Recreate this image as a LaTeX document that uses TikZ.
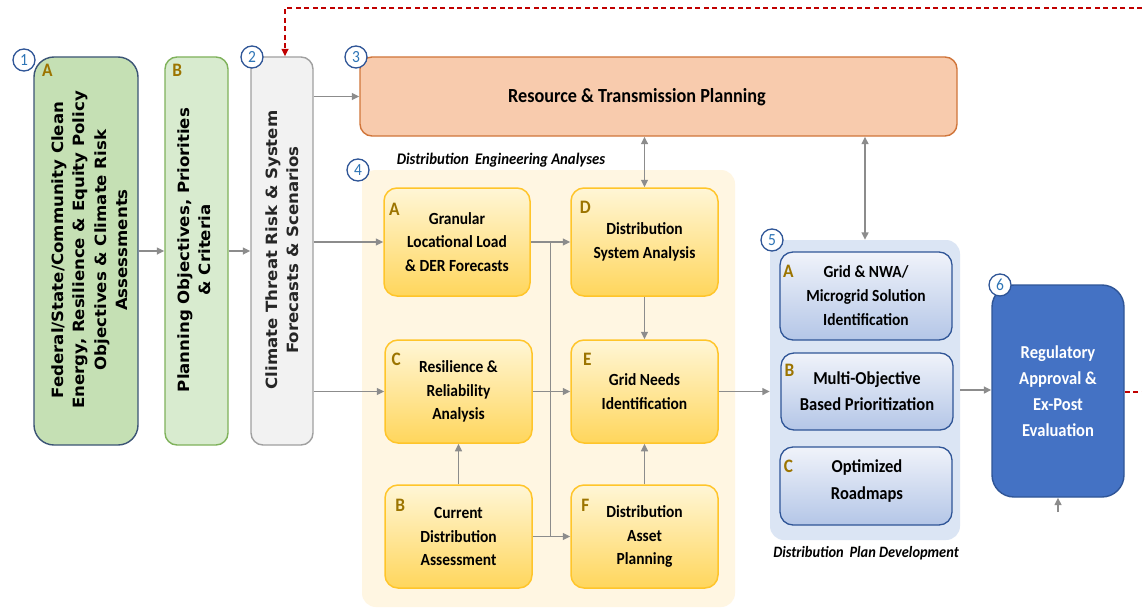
\documentclass[tikz,border=0pt]{standalone}
\usepackage{fontspec}
\setmainfont{Carlito}[FakeStretch=0.91]
\newfontfamily\dvs{DejaVu Sans}[FakeStretch=1.07]
\usetikzlibrary{arrows.meta,calc}
\definecolor{cblue}{HTML}{2F5597}
\definecolor{cnum}{HTML}{2E75B6}
\definecolor{lett}{HTML}{9C7400}
\definecolor{agray}{HTML}{8C8C8C}
\definecolor{dred}{HTML}{C00000}
\definecolor{gfillA}{HTML}{C5E0B4}
\definecolor{gbordA}{HTML}{3B5475}
\definecolor{gfillB}{HTML}{D8EBCF}
\definecolor{gbordB}{HTML}{7FB25B}
\definecolor{grfill}{HTML}{F2F2F2}
\definecolor{grbord}{HTML}{A0A0A0}
\definecolor{ofill}{HTML}{F8CBAD}
\definecolor{obord}{HTML}{D0753A}
\definecolor{c4fill}{HTML}{FFF6E2}
\definecolor{ytop}{HTML}{FFF6D6}
\definecolor{ybot}{HTML}{FFD65C}
\definecolor{ybord}{HTML}{FFC52A}
\definecolor{c5fill}{HTML}{DBE5F4}
\definecolor{btop}{HTML}{F0F3FA}
\definecolor{bbot}{HTML}{B4C6E7}
\definecolor{sixfill}{HTML}{4472C4}
\begin{document}
\begin{tikzpicture}[x=1pt,y=-1pt,
  numc/.style={circle, draw=cblue, line width=1.3pt, fill=white, minimum size=22pt, inner sep=0pt, text=cnum, font=\fontsize{17}{17}\selectfont},
  ybox/.style={draw=ybord, line width=1.5pt, rounded corners=13pt, top color=ytop, bottom color=ybot, align=center, inner sep=0pt, font=\bfseries\fontsize{17}{23.5}\selectfont},
  bbox/.style={draw=cblue, line width=1.3pt, rounded corners=13pt, top color=btop, bottom color=bbot, align=center, inner sep=0pt},
  letter/.style={text=lett, font=\bfseries\fontsize{19}{19}\selectfont, inner sep=0pt},
  conn/.style={draw=agray, line width=1.5pt, -{Triangle[length=7.5pt,width=7pt]}},
  dconn/.style={draw=agray, line width=1.5pt, {Triangle[length=7.5pt,width=7pt]}-{Triangle[length=7.5pt,width=7pt]}},
  plainline/.style={draw=agray, line width=1.5pt},
  vtext/.style={rotate=90, align=center, inner sep=0pt, font=\dvs\bfseries\fontsize{15.5}{21.5}\selectfont},
  reddash/.style={draw=dred, line width=1.5pt, dash pattern=on 5pt off 3.5pt},
  container/.style={rounded corners=14pt, inner sep=0pt},
  grouplabel/.style={font=\bfseries\itshape\fontsize{16.2}{18}\selectfont, inner sep=0pt}
]
\useasboundingbox[fill=white] (0,0) rectangle (1142,610);

% column boxes
\node[draw=gbordA, fill=gfillA, line width=1.4pt, rounded corners=20pt, minimum width=104pt, minimum height=388pt, inner sep=0pt] (b1A) at (86,251) {};
\node[draw=gbordB, fill=gfillB, line width=1.4pt, rounded corners=12pt, minimum width=63pt, minimum height=388pt, inner sep=0pt] (b1B) at (196.5,251) {};
\node[draw=grbord, fill=grfill, line width=1.4pt, rounded corners=12pt, minimum width=62pt, minimum height=388pt, inner sep=0pt] (b2) at (282,251) {};
\node[vtext] (t1A) at (89.5,250) {Federal/State/Community Clean\\Energy, Resilience \& Equity Policy\\Objectives \& Climate Risk\\Assessments};
\node[vtext] (t1B) at (194,250) {Planning Objectives, Priorities\\\& Criteria};
\node[vtext, text=black!85] (t2) at (282,250) {Climate Threat Risk \& System\\Forecasts \& Scenarios};
\node[letter] (l1A) at ([shift={(14,14)}]b1A.north west) {A};
\node[letter] (l1B) at ([shift={(13,14)}]b1B.north west) {B};

% box 3
\node[draw=obord, fill=ofill, line width=1.4pt, rounded corners=12pt, minimum width=597pt, minimum height=79pt, inner sep=0pt] (b3) at (658.5,96.5) {};
\node[inner sep=0pt, font=\bfseries\fontsize{20}{22}\selectfont] (t3) at (637,97) {Resource \& Transmission Planning};

% container 4
\node[container, fill=c4fill, minimum width=373pt, minimum height=437pt] (c4) at (548.5,388.5) {};
\node[grouplabel] (lab4) at (501,160) {Distribution\, Engineering Analyses};
\node[ybox, minimum width=146pt, minimum height=108pt] (bA) at (457,242) {Granular\\Locational Load\\\& DER Forecasts};
\node[ybox, minimum width=147pt, minimum height=108pt] (bD) at (644.5,242) {Distribution\\System Analysis};
\node[ybox, minimum width=147pt, minimum height=103pt] (bC) at (458.5,391.5) {Resilience \&\\Reliability\\Analysis};
\node[ybox, minimum width=147pt, minimum height=103pt] (bE) at (644.5,391.5) {Grid Needs\\Identification};
\node[ybox, minimum width=147pt, minimum height=103pt] (bB) at (458.5,536.5) {Current\\Distribution\\Assessment};
\node[ybox, minimum width=147pt, minimum height=103pt] (bF) at (644.5,536.5) {Distribution\\Asset\\Planning};
\node[letter] (lA) at ([shift={(11,22)}]bA.north west) {A};
\node[letter] (lD) at ([shift={(15,20)}]bD.north west) {D};
\node[letter] (lC) at ([shift={(12,20)}]bC.north west) {C};
\node[letter] (lE) at ([shift={(17,20)}]bE.north west) {E};
\node[letter] (lB) at ([shift={(16,21)}]bB.north west) {B};
\node[letter] (lF) at ([shift={(15,21)}]bF.north west) {F};

% container 5
\node[container, fill=c5fill, minimum width=190pt, minimum height=300pt] (c5) at (865,390) {};
\node[grouplabel, font=\bfseries\itshape\fontsize{15.8}{18}\selectfont] (lab5) at (866,553) {Distribution\, Plan Development};
\node[bbox, minimum width=172pt, minimum height=88pt, font=\bfseries\fontsize{17}{24}\selectfont] (b5A) at (866,296) {Grid \& NWA/\\Microgrid Solution\\Identification};
\node[bbox, minimum width=172pt, minimum height=77pt, font=\bfseries\fontsize{18.2}{26}\selectfont] (b5B) at (867,391.5) {Multi-Objective\\Based Prioritization};
\node[bbox, minimum width=172pt, minimum height=78pt] (b5C) at (866,486) {};
\node[align=center, inner sep=0pt, font=\bfseries\fontsize{18.2}{27}\selectfont] (t5C) at (867,481) {Optimized\\Roadmaps};
\node[letter] (l5A) at ([shift={(9,20)}]b5A.north west) {A};
\node[letter] (l5B) at ([shift={(9,18)}]b5B.north west) {B};
\node[letter] (l5C) at ([shift={(9,20)}]b5C.north west) {C};

% box 6
\node[draw=cblue, fill=sixfill, line width=1.4pt, rounded corners=22pt, minimum width=132pt, minimum height=212pt, inner sep=0pt, align=center, text=white, font=\bfseries\fontsize{18.2}{26}\selectfont] (b6) at (1058,391) {Regulatory\\Approval \&\\Ex-Post\\Evaluation};

% number circles
\node[numc] (n1) at (24,60) {1};
\node[numc] (n2) at (252,57) {2};
\node[numc] (n3) at (356,57) {3};
\node[numc] (n4) at (358,170) {4};
\node[numc] (n5) at (772,240) {5};
\node[numc] (n6) at (1000,285) {6};

% connectors
\draw[conn] (b1A.east) -- (b1B.west);
\draw[conn] (b1B.east) -- (b2.west);
\draw[conn] (b2.east |- b3.west) -- (b3.west);
\draw[conn] (b2.east |- bA.west) -- (bA.west);
\draw[conn] (b2.east |- bC.west) -- (bC.west);
\draw[conn] (bA.east) -- (bD.west);
\draw[conn] (bC.east) -- (bE.west);
\draw[conn] (bB.east) -- (bF.west);
\coordinate (j1) at ($(bA.east)!0.5!(bD.west)$);
\draw[plainline] (j1) -- (j1 |- bB.east);
\draw[conn] (bB.north) -- (bC.south);
\draw[conn] (bF.north) -- (bE.south);
\draw[conn] (bD.south) -- (bE.north);
\draw[dconn] (bD.north |- b3.south) -- (bD.north);
\draw[dconn] (c5.north |- b3.south) -- (c5.north);
\draw[conn] (bE.east) -- (bE.east -| c5.west);
\draw[conn] (c5.east) -- (c5.east -| b6.west);
\coordinate (b6in) at (1058,512);
\draw[conn] (b6in) -- (b6.south);

% red dashed feedback
\coordinate (rright) at (1142,392);
\coordinate (rtop) at (1142,8);
\draw[reddash] (b6.east |- rright) -- (rright);
\draw[reddash, -{Triangle[length=7.5pt,width=7pt]}] (rtop) -| ([xshift=3pt]b2.north);
\end{tikzpicture}
\end{document}
